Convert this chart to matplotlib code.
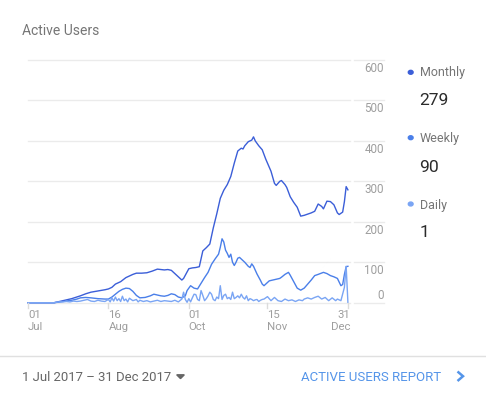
import matplotlib
matplotlib.use("Agg")
import matplotlib.pyplot as plt
import matplotlib.transforms as mtransforms
from matplotlib.patches import Polygon, Circle
from matplotlib.lines import Line2D

plt.rcParams['font.family'] = ['Roboto', 'DejaVu Sans']

# ---------------- data (day offset from 1 Jul 2017, value) ----------------
monthly_days = [0, 15, 17, 20, 25, 30, 33, 36, 40, 44, 46, 48, 50, 53, 56, 58, 60, 62, 65, 68, 71, 74,
                76, 78, 80, 82, 84, 86, 88, 89, 90, 92, 94, 96, 98, 100, 102, 104, 106, 108, 110, 112,
                114, 116, 118, 120, 122, 123, 124, 126, 128, 129, 130, 132, 134, 136, 138, 139, 141,
                142, 144, 145, 147, 148, 150, 152, 154, 156, 158, 160, 162, 164, 166, 168, 169, 171,
                173, 175, 177, 178, 180, 181, 182, 183]
monthly_vals = [0, 0, 2, 5, 10, 17, 22, 26, 29, 32, 34, 38, 46, 52, 62, 66, 70, 73, 73, 74, 78, 83,
                82, 81, 82, 80, 72, 64, 56, 60, 68, 84, 86, 87, 89, 128, 136, 145, 185, 220, 258, 278,
                292, 312, 345, 375, 382, 380, 388, 398, 402, 410, 400, 388, 378, 355, 335, 325, 295,
                290, 300, 302, 292, 285, 262, 248, 236, 214, 216, 219, 222, 226, 244, 238, 232, 251,
                250, 242, 222, 218, 224, 250, 287, 279]

weekly_days = [0, 15, 17, 20, 25, 28, 30, 33, 36, 40, 44, 46, 48, 50, 52, 54, 56, 58, 60, 62, 64, 67,
               70, 72, 74, 76, 78, 80, 82, 84, 86, 88, 90, 91, 93, 95, 97, 99, 101, 103, 105, 107,
               109, 110, 111, 112, 113, 114, 115, 116, 117, 118, 119, 120, 121, 122, 124, 126, 127,
               128, 129, 131, 133, 134, 135, 136, 138, 140, 142, 144, 145, 147, 149, 150, 152, 154,
               156, 158, 160, 162, 164, 166, 169, 171, 173, 175, 177, 179, 180, 181, 182, 183]
weekly_vals = [0, 0, 1, 3, 6, 9, 12, 13, 12, 10, 9, 9, 14, 21, 28, 33, 36, 35, 28, 18, 12, 13,
               17, 21, 19, 17, 16, 18, 22, 20, 14, 12, 17, 30, 42, 36, 34, 48, 62, 75, 95, 108,
               120, 137, 158, 150, 130, 122, 112, 120, 100, 92, 100, 110, 112, 108, 100, 90, 87,
               96, 90, 71, 55, 46, 42, 46, 54, 56, 58, 60, 63, 70, 75, 68, 52, 36,
               31, 36, 46, 56, 67, 70, 75, 72, 67, 64, 60, 42, 45, 70, 89, 90]

daily_days = [0, 15, 16, 18, 20, 22, 24, 26, 28, 30, 32, 34, 36, 38, 40, 42, 44, 46, 47, 48, 49, 50,
              51, 52, 53, 54, 55, 56, 57, 58, 60, 62, 63, 64, 66, 68, 70, 72, 74, 76, 78, 80, 82,
              84, 86, 88, 89, 90, 91, 92, 93, 94, 95, 96, 97, 98, 99, 100, 101, 102, 103, 104, 105,
              106, 107, 108, 109, 110, 111, 112, 113, 114, 115, 116, 117, 118, 119, 120, 121, 122,
              123, 124, 125, 126, 127, 128, 129, 130, 131, 132, 133, 134, 135, 137, 139, 141, 143,
              145, 147, 149, 151, 153, 155, 157, 158, 160, 162, 164, 166, 168, 170, 172, 174, 176,
              177, 179, 181, 182, 183]
daily_vals = [0, 0, 1, 2, 2, 3, 2, 4, 3, 4, 6, 8, 4, 3, 6, 4, 3, 8, 2, 12, 4, 14,
              5, 10, 3, 16, 5, 9, 2, 11, 5, 8, 2, 6, 3, 5, 2, 4, 6, 3, 5, 4, 3,
              6, 2, 9, 26, 8, 1, 10, 2, 12, 21, 20, 8, 5, 30, 18, 5, 10, 17, 26, 21,
              8, 5, 14, 10, 42, 8, 18, 21, 10, 13, 8, 26, 10, 13, 17, 12, 21,
              13, 9, 17, 5, 10, 8, 5, 7, 8, 3, 6, 8, 9, 15, 5, 13, 5,
              3, 9, 5, 7, 3, 7, 5, 9, 12, 9, 13, 16, 9, 13, 5, 12, 5,
              9, 5, 38, 90, 1]

series_names = ["Monthly", "Weekly", "Daily"]
series_current = ["279", "90", "1"]
y_ticks = [0, 100, 200, 300, 400, 500, 600]
x_tick_days = [0, 46, 92, 137, 183]
x_tick_top = ["01", "16", "01", "15", "31"]
x_tick_bottom = ["Jul", "Aug", "Oct", "Nov", "Dec"]

colors = ["#3b5ed8", "#4a7fe9", "#7aa5f4"]
grid_c = "#ebebeb"
lab_c = "#9e9e9e"

W, H = 486, 395
fig = plt.figure(figsize=(W / 100, H / 100), dpi=100)


def fx(px):
    return px / W


def fy(py):
    return 1 - py / H


# main axes: x 28..350 px, y 60..302.7 px
top_px, base_px = 60.0, 302.7
ax = fig.add_axes([fx(28), fy(base_px), fx(350) - fx(28), fy(top_px) - fy(base_px)])
ax.set_xlim(0, 184.2)
ax.set_ylim(0, 600)
for s in ax.spines.values():
    s.set_visible(False)
ax.set_xticks([])
ax.set_yticks([])
for v in y_ticks:
    ax.axhline(v, color=grid_c, lw=1.0, zorder=0, clip_on=False)

for d, v, c in zip([monthly_days, weekly_days, daily_days],
                   [monthly_vals, weekly_vals, daily_vals], colors):
    ax.plot(d, v, color=c, lw=1.0, solid_joinstyle='round', clip_on=False, zorder=3)

# x ticks and labels
for i, d in enumerate(x_tick_days):
    ha = 'right' if i == len(x_tick_days) - 1 else 'left'
    xd = d + (1.2 if i == len(x_tick_days) - 1 else 0)
    tr = mtransforms.offset_copy(ax.transData, fig=fig, x=0, y=-(318.5 - base_px), units='dots')
    ax.text(xd, 0, x_tick_top[i], transform=tr, ha=ha, va='baseline', fontsize=8.2, color=lab_c)
    tr2 = mtransforms.offset_copy(ax.transData, fig=fig, x=0, y=-(329.5 - base_px), units='dots')
    ax.text(xd, 0, x_tick_bottom[i], transform=tr2, ha=ha, va='baseline', fontsize=8.2, color=lab_c)
    x_px = 28 + d * (322 / 184.2)
    fig.add_artist(Line2D([fx(x_px), fx(x_px)], [fy(base_px), fy(308)], color="#dcdcdc", lw=1.0))

# right label axes
ax2 = fig.add_axes([fx(354), fy(base_px), fx(384) - fx(354), fy(top_px) - fy(base_px)])
ax2.set_xlim(0, 1)
ax2.set_ylim(0, 600)
ax2.axis('off')
for v in y_ticks:
    ax2.axhline(v, color=grid_c, lw=1.0, zorder=0, clip_on=False)
    off = 4.0 if v == 0 else -11.8
    tr = mtransforms.offset_copy(ax2.transData, fig=fig, x=0, y=off, units='dots')
    ax2.text(1.0, v, str(v), transform=tr, ha='right', va='baseline', fontsize=8.4, color=lab_c)

# title
fig.text(fx(22.5), fy(35), "Active Users", fontsize=10.0, color="#757575", va='baseline', ha='left')

# legend on right
dot_y = [72.3, 137.7, 204]
name_base = [76, 142.3, 209]
val_base = [105, 171.7, 237]
for i in range(3):
    fig.add_artist(Circle((fx(410.7), fy(dot_y[i])), radius=2.4 / W, color=colors[i],
                          transform=fig.transFigure))
    fig.text(fx(419.5), fy(name_base[i]), series_names[i], fontsize=9.0, color="#757575",
             va='baseline', ha='left')
    fig.text(fx(419.5), fy(val_base[i]), series_current[i], fontsize=12.6, color="#2b2b2b",
             va='baseline', ha='left')

# bottom separator
fig.add_artist(Line2D([0, 1], [fy(356), fy(356)], color="#e0e0e0", lw=1.0))
fig.text(fx(22.5), fy(380.7), "1 Jul 2017 \u2013 31 Dec 2017", fontsize=9.45, color="#666666",
         va='baseline', ha='left')
fig.add_artist(Polygon([[fx(176.7), fy(374.8)], [fx(184.3), fy(374.8)], [fx(180.5), fy(378.6)]],
                       closed=True, color="#666666", transform=fig.transFigure))
fig.text(fx(301), fy(380.7), "ACTIVE USERS REPORT", fontsize=9.55, color="#5595e9",
         va='baseline', ha='left')
fig.add_artist(Line2D([fx(457.5), fx(463), fx(457.5)], [fy(371.5), fy(376.2), fy(381)],
                      color="#5595e9", lw=1.8, solid_capstyle='butt', solid_joinstyle='miter'))

fig.savefig("out.png", dpi=100)
